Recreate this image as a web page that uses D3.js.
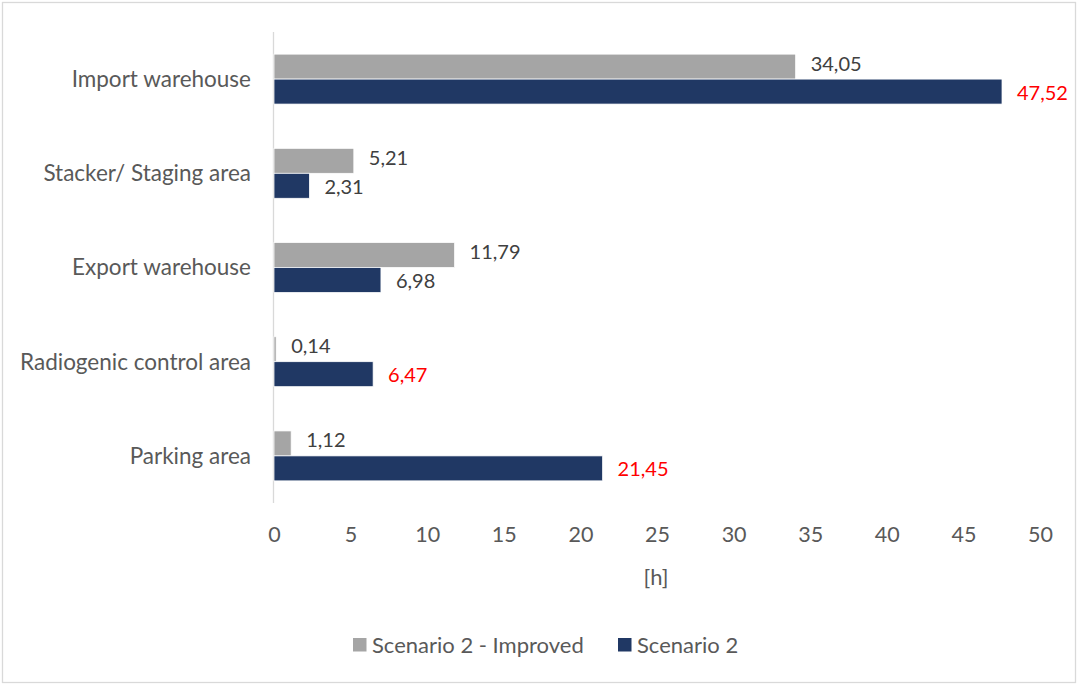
<!DOCTYPE html>
<html>
<head>
<meta charset="utf-8">
<script src="https://cdn.jsdelivr.net/npm/d3@7"></script>
<style>
  html, body { margin: 0; padding: 0; background: #fff; }
  svg { display: block; }
  text { font-family: Lato, "Open Sans", sans-serif; }
</style>
</head>
<body>
<svg id="chart" width="1078" height="686"></svg>
<script>
// Dwell times per area, in hours
const categories = ["Import warehouse", "Stacker/ Staging area", "Export warehouse", "Radiogenic control area", "Parking area"];
const seriesNames = ["Scenario 2 - Improved", "Scenario 2"];
const improved = [34.05, 5.21, 11.79, 0.14, 1.12];
const scenario2 = [47.52, 2.31, 6.98, 6.47, 21.45];
const highlighted = [true, false, false, true, true]; // Scenario 2 labels shown in red
const xTicks = [0, 5, 10, 15, 20, 25, 30, 35, 40, 45, 50];
const axisTitle = "[h]";

const colors = ["#A5A5A5", "#203864"];
const labelShift = [-3, 1]; // vertical nudge of value labels per series
const W = 1078, H = 686;
const plot = { left: 274, right: 1040, top: 32, bottom: 503 };

const svg = d3.select("#chart");

// outer frame
svg.append("rect")
  .attr("x", 2.5).attr("y", 2.5)
  .attr("width", W - 5).attr("height", H - 6)
  .attr("fill", "#fff").attr("stroke", "#D9D9D9").attr("stroke-width", 1.3);

const x = d3.scaleLinear().domain([0, 50]).range([plot.left, plot.right]);
const y = d3.scaleBand().domain(categories).range([plot.top, plot.bottom]).paddingInner(0.47).paddingOuter(0.235);
const sub = d3.scaleBand().domain(seriesNames).range([0, y.bandwidth()]);

// category axis line
svg.append("line")
  .attr("x1", x(0) - 0.5).attr("x2", x(0) - 0.5)
  .attr("y1", plot.top).attr("y2", plot.bottom)
  .attr("stroke", "#D9D9D9").attr("stroke-width", 1.3);

// category labels
svg.append("g").selectAll("text").data(categories).join("text")
  .attr("x", plot.left - 23)
  .attr("y", d => y(d) + y.bandwidth() / 2)
  .attr("dy", "0.35em")
  .attr("text-anchor", "end")
  .attr("fill", "#595959")
  .attr("font-size", 22.5)
  .text(d => d);

// value axis tick labels
const xAxis = d3.axisBottom(x).tickValues(xTicks).tickSize(0).tickPadding(0).tickFormat(d3.format("d"));
const gx = svg.append("g").attr("transform", `translate(0, ${plot.bottom + 31})`).call(xAxis);
gx.select(".domain").remove();
gx.selectAll("text")
  .attr("fill", "#595959")
  .attr("font-size", 21.5)
  .attr("font-family", "Lato, sans-serif")
  .attr("dy", "0.35em");

// axis title
svg.append("text")
  .attr("x", (plot.left + plot.right) / 2 - 1)
  .attr("y", 577).attr("dy", "0.35em")
  .attr("text-anchor", "middle")
  .attr("fill", "#595959").attr("font-size", 22)
  .text(axisTitle);

const fmt = v => v.toFixed(2).replace(".", ",");
const series = [improved, scenario2];

series.forEach((vals, si) => {
  const g = svg.append("g");
  g.selectAll("rect").data(vals).join("rect")
    .attr("x", x(0))
    .attr("y", (d, i) => y(categories[i]) + sub(seriesNames[si]))
    .attr("width", d => x(d) - x(0))
    .attr("height", sub.bandwidth())
    .attr("fill", colors[si])
    .attr("stroke", "#fff").attr("stroke-width", 0.75);

  g.selectAll("text").data(vals).join("text")
    .attr("x", d => x(d) + 15)
    .attr("y", (d, i) => y(categories[i]) + sub(seriesNames[si]) + sub.bandwidth() / 2 + labelShift[si])
    .attr("dy", "0.35em")
    .attr("fill", (d, i) => (si === 1 && highlighted[i]) ? "#FF0000" : "#404040")
    .attr("font-size", 20)
    .text(d => fmt(d));
});

// legend
const legend = svg.append("g").attr("transform", "translate(0, 645)");
const legendX = [353, 618];
seriesNames.forEach((name, i) => {
  legend.append("rect")
    .attr("x", legendX[i]).attr("y", -7)
    .attr("width", 13.5).attr("height", 13.5)
    .attr("fill", colors[i]);
  legend.append("text")
    .attr("x", legendX[i] + 19).attr("y", 0).attr("dy", "0.35em")
    .attr("fill", "#595959").attr("font-size", 22)
    .text(name);
});
</script>
</body>
</html>
